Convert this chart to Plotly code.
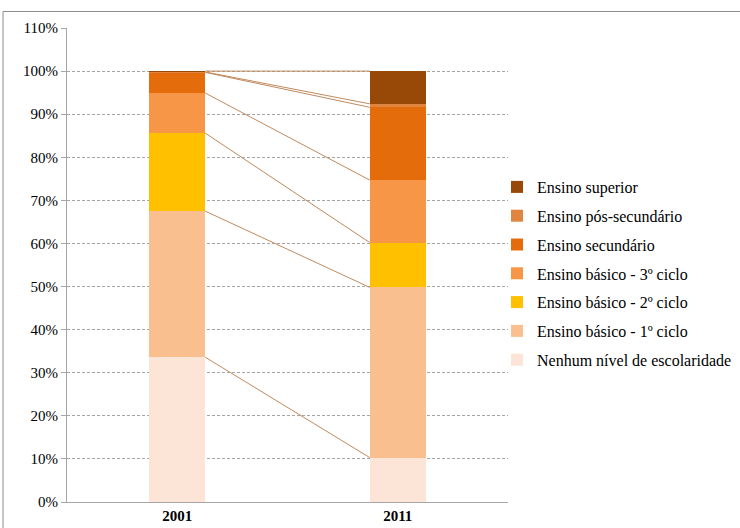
import plotly.graph_objects as go

years = ["2001", "2011"]
categories = [
    "Nenhum nível de escolaridade",
    "Ensino básico - 1º ciclo",
    "Ensino básico - 2º ciclo",
    "Ensino básico - 3º ciclo",
    "Ensino secundário",
    "Ensino pós-secundário",
    "Ensino superior",
]
values_2001 = [33.6, 33.9, 18.1, 9.3, 4.8, 0.1, 0.2]
values_2011 = [10.3, 39.5, 10.4, 14.5, 16.9, 0.8, 7.6]
colors = ["#FCE4D6", "#F9BF8F", "#FFC000", "#F79646", "#E46C0A", "#E0853F", "#984807"]
yticks = list(range(0, 111, 10))

bar_w = 0.254
xpos = [0, 1]
fig = go.Figure()
for i, name in enumerate(categories):
    fig.add_trace(go.Bar(
        x=xpos, y=[values_2001[i], values_2011[i]], name=name,
        marker=dict(color=colors[i], line=dict(width=0)),
        width=bar_w, legendgroup=name, legendrank=100 - i,
    ))

# series lines connecting segment tops
c1 = 0
c2 = 0
for i in range(len(categories)):
    c1 += values_2001[i]
    c2 += values_2011[i]
    fig.add_trace(go.Scatter(
        x=[xpos[0] + bar_w / 2, xpos[1] - bar_w / 2], y=[c1, c2],
        mode="lines", line=dict(color="#C08A5E", width=1),
        showlegend=False, hoverinfo="skip",
    ))

L, R, T, B = 67, 232, 28, 26
pw = 740 - L - R
ph = 528 - T - B
fig.update_layout(
    width=740, height=528,
    margin=dict(l=L, r=R, t=T, b=B, autoexpand=False),
    barmode="stack",
    plot_bgcolor="white", paper_bgcolor="white",
    font=dict(family="'Liberation Serif', 'Times New Roman', serif", size=15, color="black"),
    legend=dict(
        x=(497 - L) / pw, y=(502 - 170) / ph, xanchor="left", yanchor="top",
        traceorder="grouped", tracegroupgap=5,
        font=dict(family="'Liberation Serif', 'Times New Roman', serif", size=16),
        itemwidth=30,
        bgcolor="rgba(0,0,0,0)",
    ),
    xaxis=dict(
        range=[-0.5, 1.5], tickvals=xpos,
        ticktext=["<b>%s</b>" % y for y in years],
        showgrid=False, zeroline=False,
        showline=True, linecolor="#A6A6A6", linewidth=1,
        ticks="", tickfont=dict(size=15),
    ),
    yaxis=dict(
        range=[0, 110], tickvals=yticks, ticktext=["%d%%" % t for t in yticks],
        showgrid=True, gridcolor="#A6A6A6", griddash="3px,2px", gridwidth=1,
        zeroline=False, showline=True, linecolor="#A6A6A6", linewidth=1,
        ticks="outside", ticklen=5, tickcolor="#A6A6A6",
    ),
    shapes=[dict(
        type="rect", xref="paper", yref="paper",
        x0=(3 - L) / pw, x1=(760 - L) / pw,
        y0=(502 - 540) / ph, y1=(502 - 11.5) / ph,
        line=dict(color="#8C8C8C", width=1), fillcolor="rgba(0,0,0,0)", layer="below",
    )],
)
fig.write_html("out.html")
